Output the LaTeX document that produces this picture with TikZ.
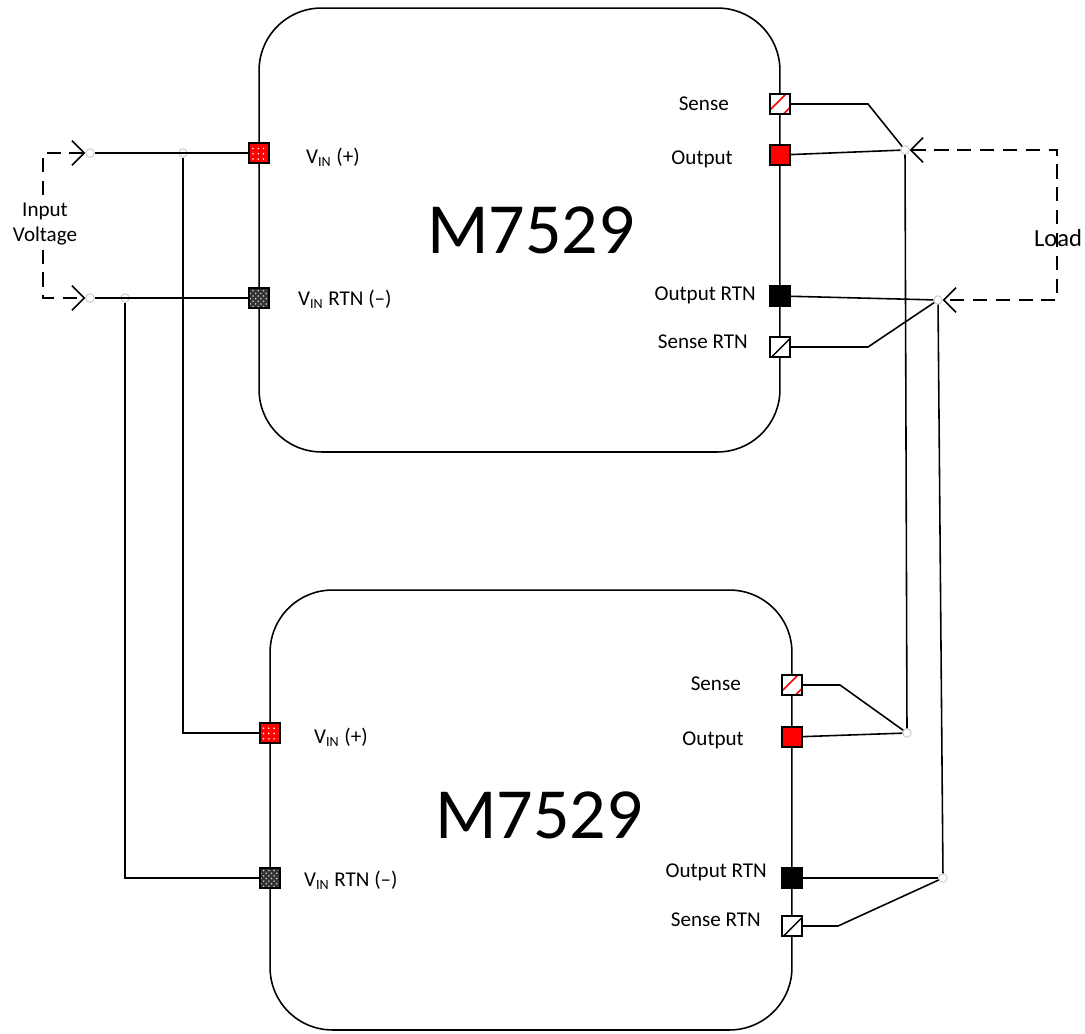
\documentclass[tikz,border=0pt]{standalone}
\usepackage{fontspec}
\setmainfont{Carlito}
\usetikzlibrary{arrows.meta}
\usetikzlibrary{patterns}
\usetikzlibrary{positioning}

\tikzset{
  module/.style={draw, line width=0.9pt, rounded corners=1.25cm, minimum width=10.42cm, minimum height=8.88cm},
  pin/.style={draw, line width=0.6pt, minimum size=0.4cm, inner sep=0pt},
  junction/.style={circle, draw=gray!45, line width=0.5pt, inner sep=0pt, minimum size=0.17cm},
  wire/.style={line width=0.9pt},
  link/.style={line width=0.9pt, dash pattern=on 8pt off 5pt,
    {Straight Barb[length=7pt,width=14pt]}-{Straight Barb[length=7pt,width=14pt]}},
  lbl/.style={font=\fontsize{12}{14}\selectfont},
  title/.style={font=\fontsize{41}{46}\selectfont},
  vinplus/.style={pin, preaction={fill=red}, pattern=dots, pattern color=white},
  vinrtn/.style={pin, preaction={fill=black!80}, pattern=crosshatch dots, pattern color=white!80!black},
  outplus/.style={pin, fill=red},
  outrtn/.style={pin, fill=black},
  sense/.style={pin, fill=white, path picture={
      \draw[red, line width=0.9pt] ([shift={(-0.2cm,-0.12cm)}]path picture bounding box.center) -- ++(0.32cm,0.32cm);
      \draw[red, line width=0.9pt] ([shift={(0.07cm,-0.2cm)}]path picture bounding box.center) -- ++(0.13cm,0.13cm);}},
  sensertn/.style={pin, fill=white, path picture={
      \draw[line width=0.8pt] ([shift={(-0.17cm,-0.2cm)}]path picture bounding box.center) -- ++(0.37cm,0.37cm);}},
}

\begin{document}
\begin{tikzpicture}[x=0.02cm, y=-0.02cm]
\useasboundingbox (0,0) rectangle (1085,1034);

% the two modules
\node[module] (m1) at (519.5,230) {};
\node[module, minimum width=10.44cm, minimum height=8.8cm] (m2) at (531,810) {};
\node[title] at (531,230) {M7529};
\node[title] at (539,815) {M7529};

% pins of the upper module
\node[vinplus]  (vp1) at (259,153) {};
\node[vinrtn]   (vn1) at (259,298) {};
\node[sense]    (s1)  at (780,104) {};
\node[outplus]  (o1)  at (780,155) {};
\node[outrtn]   (r1)  at (780,296) {};
\node[sensertn] (sr1) at (780,347) {};

% pins of the lower module
\node[vinplus]  (vp2) at (270,733) {};
\node[vinrtn]   (vn2) at (270,878) {};
\node[sense]    (s2)  at (792,685) {};
\node[outplus]  (o2)  at (792,737) {};
\node[outrtn]   (r2)  at (792,878) {};
\node[sensertn] (sr2) at (792,926) {};

% pin labels
\node[lbl, anchor=west] at (300,157) {V\textsubscript{IN} (+)};
\node[lbl, anchor=west] at (292,299) {V\textsubscript{IN} RTN (--)};
\node[lbl, anchor=east] at (735,104) {Sense};
\node[lbl, anchor=east] at (739,159) {Output};
\node[lbl, anchor=east] at (762,295) {Output RTN};
\node[lbl, anchor=east] at (754,342) {Sense RTN};

\node[lbl, anchor=west] at (308,737) {V\textsubscript{IN} (+)};
\node[lbl, anchor=west] at (298,880) {V\textsubscript{IN} RTN (--)};
\node[lbl, anchor=east] at (747,684) {Sense};
\node[lbl, anchor=east] at (750,740) {Output};
\node[lbl, anchor=east] at (773,872) {Output RTN};
\node[lbl, anchor=east] at (767,920) {Sense RTN};

% junctions
\node[junction] (inA) at (90,153) {};
\node[junction] (inB) at (90,298) {};
\node[junction] (jA)  at (183,153) {};
\node[junction] (jB)  at (125,298) {};
\node[junction] (oj1) at (905,150) {};
\node[junction] (rj1) at (938,300) {};
\node[junction] (oj2) at (907,733) {};
\node[junction] (rj2) at (943,878) {};

% input side
\draw[wire] (inA) -- (vp1);
\draw[wire] (inB) -- (vn1);
\draw[wire] (jA) |- (vp2);
\draw[wire] (jB) |- (vn2);

% output side, upper module
\draw[wire] (s1) -- (868,104) -- (oj1);
\draw[wire] (o1) -- (oj1);
\draw[wire] (r1) -- (rj1);
\draw[wire] (sr1) -- (868,347) -- (rj1);

% output side, lower module
\draw[wire] (s2) -- (840,685) -- (oj2);
\draw[wire] (o2) -- (oj2);
\draw[wire] (r2) -- (rj2);
\draw[wire] (sr2) -- (838,926) -- (rj2);

% paralleling buses
\draw[wire] (oj1) -- (oj2);
\draw[wire] (rj1) -- (rj2);

% source and load
\draw[link] (inA) -| (43,225) |- (inB);
\draw[link] (oj1) -| (1057,225) |- (rj1);
\node[lbl, fill=white, inner sep=1pt, align=center] at (45,224) {Input\\Voltage};
\node[font=\fontsize{14}{16}\selectfont] at (1058,238) {Load};

\end{tikzpicture}
\end{document}
